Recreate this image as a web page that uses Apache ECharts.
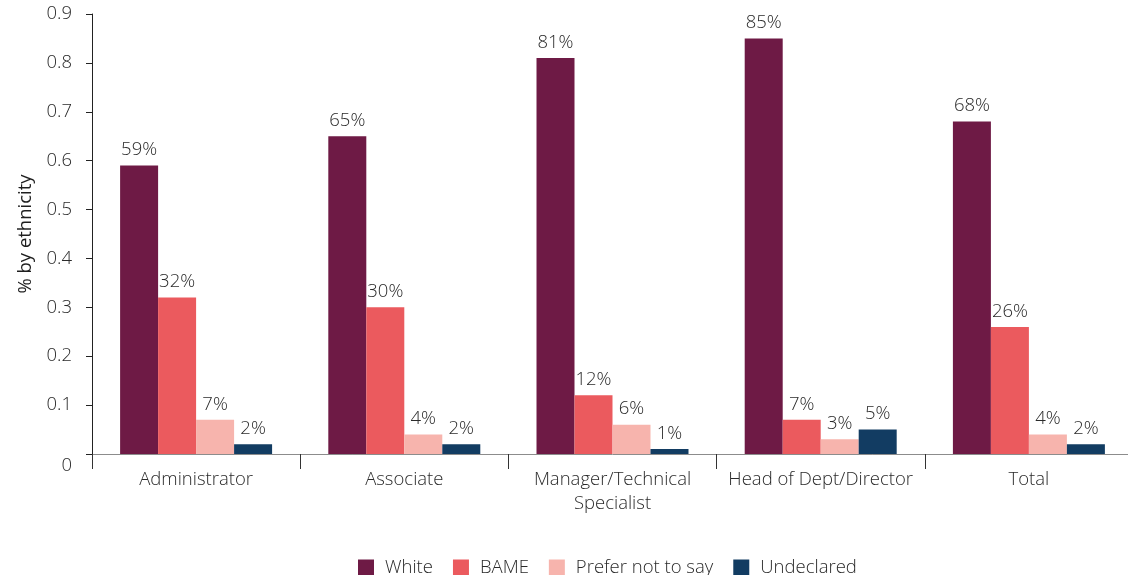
<!DOCTYPE html>
<html>
<head>
<meta charset="utf-8">
<script src="https://cdn.jsdelivr.net/npm/echarts@6/dist/echarts.min.js"></script>
<style>
  html, body { margin: 0; padding: 0; background: #fff; overflow: hidden; }
  /* the plot runs a few pixels past the right edge of the window */
  #chart { width: 1133px; height: 575px; }
</style>
</head>
<body>
<div id="chart"></div>
<script>
// Job levels along the x axis
const categories = ['Administrator', 'Associate', 'Manager/Technical\nSpecialist', 'Head of Dept/Director', 'Total'];

// Share of staff in each job level, by ethnicity
const white       = [0.59, 0.65, 0.81, 0.85, 0.68];
const bame        = [0.32, 0.30, 0.12, 0.07, 0.26];
const preferNot   = [0.07, 0.04, 0.06, 0.03, 0.04];
const undeclared  = [0.02, 0.02, 0.01, 0.05, 0.02];

const seriesNames = ['White', 'BAME', 'Prefer not to say', 'Undeclared'];
const seriesColors = ['#6e1a45', '#eb5a5e', '#f7b4ad', '#123c62'];

const FONT = '"Open Sans"';
const FS = 18.5;
const FW = 300;
const TEXT = '#2a2a2a';

function pct(v) { return Math.round(v * 100) + '%'; }

const chart = echarts.init(document.getElementById('chart'), null, { renderer: 'canvas' });

const series = [white, bame, preferNot, undeclared].map((data, i) => ({
  name: seriesNames[i],
  type: 'bar',
  data: data,
  barGap: '0%',
  barCategoryGap: '27%',
  itemStyle: { color: seriesColors[i] },
  label: {
    show: true,
    position: 'top',
    distance: 6,
    formatter: p => pct(p.value),
    fontFamily: FONT,
    fontSize: FS,
    fontWeight: FW,
    color: TEXT
  }
}));

chart.setOption({
  animation: false,
  textStyle: { fontFamily: FONT },
  grid: { left: 92, right: 0, top: 14, bottom: 121, containLabel: false },
  legend: {
    data: seriesNames,
    left: 353,
    top: 553,
    itemWidth: 16,
    itemHeight: 16,
    itemGap: 20,
    icon: 'rect',
    textStyle: { fontFamily: FONT, fontSize: FS, fontWeight: FW, color: TEXT, padding: [0, 0, 0, 6] }
  },
  xAxis: {
    type: 'category',
    data: categories,
    axisLine: { show: true, lineStyle: { color: '#8c8c8c', width: 1 } },
    axisTick: { show: true, length: 15, lineStyle: { color: '#333', width: 1 } },
    axisLabel: {
      fontFamily: FONT,
      fontSize: FS,
      fontWeight: FW,
      color: TEXT,
      margin: 14,
      lineHeight: 24,
      interval: 0
    }
  },
  yAxis: {
    type: 'value',
    min: 0,
    max: 0.9,
    interval: 0.1,
    name: '% by ethnicity',
    nameLocation: 'middle',
    nameGap: 57,
    nameRotate: 90,
    nameTextStyle: { fontFamily: FONT, fontSize: FS, fontWeight: 400, color: '#1e1e1e' },
    axisLine: { show: true, lineStyle: { color: '#222', width: 1 } },
    axisTick: { show: true, length: 6, lineStyle: { color: '#222' } },
    splitLine: { show: false },
    axisLabel: {
      fontFamily: FONT,
      fontSize: FS,
      fontWeight: FW,
      color: TEXT,
      margin: 20,
      formatter: v => (v === 0 ? '{z|0}' : v.toFixed(1)),
      rich: {
        z: { fontFamily: FONT, fontSize: FS, fontWeight: FW, color: TEXT, padding: [24, 0, 0, 0] }
      }
    }
  },
  series: series
});
</script>
</body>
</html>
